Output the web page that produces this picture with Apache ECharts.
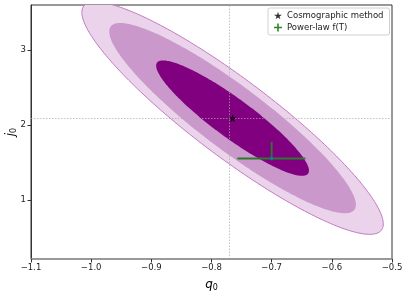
<!DOCTYPE html>
<html>
<head>
<meta charset="utf-8">
<script src="https://cdn.jsdelivr.net/npm/echarts@6/dist/echarts.min.js"></script>
<style>html,body{margin:0;padding:0;background:#fff}#c{width:409px;height:297px}</style>
</head>
<body>
<div id="c"></div>
<script>
// ---- data ----
const xTicks = [-1.1, -1.0, -0.9, -0.8, -0.7, -0.6, -0.5];
const yTicks = [1, 2, 3];
const cosmographic = [[-0.765, 2.09]];          // best fit (q0, j0)
const ellipseCenter = [-0.765, 2.09];
const ellipseHalfQ = [0.2505, 0.205, 0.127];    // half-extent in q0 per contour (outer, middle, inner)
const ellipseHalfJ = [1.551, 1.27, 0.77];       // half-extent in j0 per contour
const ellipseCorr = -0.91;                       // correlation of q0 and j0
const ellipseFill = ['#ebd4eb', '#ca98ca', '#800080'];
const powerLawPoint = [-0.70, 1.551];
const powerLawQErr = [-0.757, -0.644];
const powerLawJErr = [1.551, 1.773];

const starPath = 'path://M50,0 L61,35 L98,35 L68,57 L79,91 L50,70 L21,91 L32,57 L2,35 L39,35 Z';
const plusPath = 'path://M4,0 H6 V4 H10 V6 H6 V10 H4 V6 H0 V4 H4 Z';
const FONT = 'DejaVu Sans';

function fmt(v){ return (v < 0 ? '\u2212' : '') + Math.abs(v).toFixed(1); }

function ellipseSeries(i){
  return {
    type: 'custom', name: 'ellipse' + i, silent: true, z: 1 + i,
    data: [[ellipseCenter[0], ellipseCenter[1], ellipseHalfQ[i], ellipseHalfJ[i]]],
    renderItem: function(params, api){
      const cq = api.value(0), cj = api.value(1), hq = api.value(2), hj = api.value(3);
      const s = Math.sqrt(1 - ellipseCorr * ellipseCorr);
      const pts = [];
      for (let k = 0; k < 240; k++){
        const t = k / 240 * Math.PI * 2;
        pts.push(api.coord([cq + hq * Math.cos(t), cj + hj * (ellipseCorr * Math.cos(t) + s * Math.sin(t))]));
      }
      const cs = params.coordSys;
      return {
        type: 'polygon', shape: { points: pts },
        style: { fill: ellipseFill[i], stroke: i === 0 ? '#c27ac2' : null, lineWidth: i === 0 ? 1 : 0 },
        clipPath: { type: 'rect', shape: { x: cs.x, y: cs.y, width: cs.width, height: cs.height } }
      };
    }
  };
}

const chart = echarts.init(document.getElementById('c'), null, { renderer: 'canvas' });
chart.setOption({
  animation: false,
  backgroundColor: '#fff',
  textStyle: { fontFamily: FONT },
  grid: { left: 31, right: 17, top: 5, bottom: 38, outerBoundsMode: 'none', containLabel: false, show: true, borderColor: '#333', borderWidth: 1, backgroundColor: 'transparent' },
  legend: {
    orient: 'vertical', left: 268, top: 8,
    padding: [3, 6, 3, 6], itemGap: 3, itemWidth: 8, itemHeight: 8,
    borderColor: '#d0d0d0', borderWidth: 1, borderRadius: 2, backgroundColor: 'rgba(255,255,255,0.8)',
    textStyle: { fontFamily: FONT, fontSize: 8.5, color: '#222' },
    data: [
      { name: 'Cosmographic method', icon: starPath, itemStyle: { color: '#000' } },
      { name: 'Power-law f(T)', icon: plusPath, itemStyle: { color: '#2a8a2a' } }
    ]
  },
  xAxis: {
    type: 'value', min: -1.1, max: -0.5, interval: 0.1,
    name: '{i|q}{s|0}', nameLocation: 'middle', nameGap: 19, nameMoveOverlap: false,
    nameTextStyle: { rich: { i: { fontFamily: FONT, fontStyle: 'italic', fontSize: 12, color: '#000' }, s: { fontFamily: FONT, fontSize: 8, color: '#000', padding: [6, 0, 0, 0] } } },
    axisLine: { show: true, onZero: false, lineStyle: { color: '#999', width: 1.5 } },
    axisTick: { show: true, inside: false, length: 3.5, lineStyle: { color: '#333' }, customValues: xTicks },
    axisLabel: { fontFamily: FONT, fontSize: 8.5, color: '#222', margin: 4, formatter: fmt, customValues: xTicks },
    splitLine: { show: false }
  },
  yAxis: {
    type: 'value', min: 0.21, max: 3.6,
    name: '{i|j}{s|0}', nameLocation: 'middle', nameGap: 13, nameRotate: 90, nameMoveOverlap: false,
    nameTextStyle: { rich: { i: { fontFamily: FONT, fontStyle: 'italic', fontSize: 12, color: '#000' }, s: { fontFamily: FONT, fontSize: 8, color: '#000', padding: [6, 0, 0, 0] } } },
    axisLine: { show: true, onZero: false, lineStyle: { color: '#333', width: 1 } },
    axisTick: { show: true, inside: false, length: 3.5, lineStyle: { color: '#333' }, customValues: yTicks },
    axisLabel: { fontFamily: FONT, fontSize: 8.5, color: '#222', margin: 5, customValues: yTicks },
    splitLine: { show: false }
  },
  series: [
    ellipseSeries(0), ellipseSeries(1), ellipseSeries(2),
    {
      type: 'line', name: 'refLines', data: [], z: 5, silent: true,
      markLine: {
        silent: true, symbol: 'none', animation: false, label: { show: false },
        lineStyle: { type: [1.5, 1.5], color: 'rgba(170,170,170,0.7)', width: 1 },
        data: [{ xAxis: cosmographic[0][0] }, { yAxis: cosmographic[0][1] }]
      }
    },
    {
      type: 'custom', name: 'Power-law f(T)', z: 6, color: '#2a8a2a',
      data: [[powerLawPoint[0], powerLawPoint[1], powerLawQErr[0], powerLawQErr[1], powerLawJErr[0], powerLawJErr[1]]],
      renderItem: function(params, api){
        const p = api.coord([api.value(0), api.value(1)]);
        const l = api.coord([api.value(2), api.value(1)]);
        const r = api.coord([api.value(3), api.value(1)]);
        const b = api.coord([api.value(0), api.value(4)]);
        const t = api.coord([api.value(0), api.value(5)]);
        return { type: 'group', children: [
          { type: 'line', shape: { x1: l[0], y1: l[1], x2: r[0], y2: r[1] }, style: { stroke: '#2a7a2a', lineWidth: 1.8 } },
          { type: 'line', shape: { x1: b[0], y1: b[1], x2: t[0], y2: t[1] }, style: { stroke: '#2a7a2a', lineWidth: 1.8 } },
          { type: 'circle', shape: { cx: p[0], cy: p[1], r: 1.8 }, style: { fill: '#1f6f9f' } }
        ]};
      }
    },
    {
      type: 'scatter', name: 'Cosmographic method', z: 7, data: cosmographic,
      symbol: starPath, symbolSize: 8, itemStyle: { color: '#000' }
    }
  ]
});
</script>
</body>
</html>
